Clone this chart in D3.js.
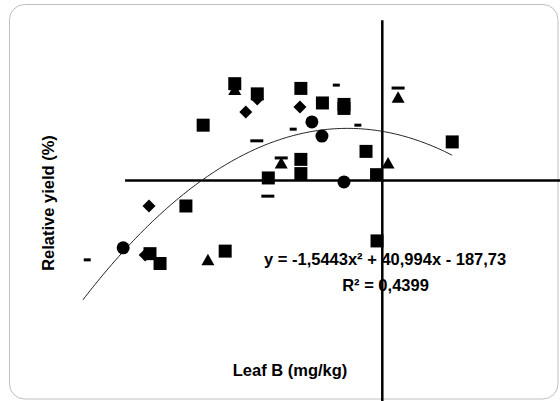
<!DOCTYPE html>
<html>
<head>
<meta charset="utf-8">
<script src="https://cdn.jsdelivr.net/npm/d3@7"></script>
<style>
body { margin: 0; background: #fff; }
text { font-family: "Liberation Sans", Arial, sans-serif; font-weight: bold; fill: #000; }
</style>
</head>
<body>
<svg id="chart" width="560" height="401"></svg>
<script>
// values: [Leaf B mg/kg, relative yield %]
const squares = [
    [10.92, 96.6], [11.39, 93.8], [10.26, 85.2], [12.30, 95.3], [12.75, 91.3],
    [13.20, 90.9], [13.20, 89.8], [12.30, 75.8], [12.30, 71.9], [11.62, 70.7],
    [13.66, 78.0], [13.88, 71.6], [15.46, 80.6], [13.89, 53.4], [9.90, 63.0],
    [9.15, 49.9], [9.36, 47.2], [10.72, 50.6]
];
const diamonds = [[11.15, 88.8], [11.39, 92.4], [12.28, 90.2], [9.13, 63.0], [9.05, 49.5]];
const triangles = [[10.92, 95.0], [11.89, 74.8], [14.33, 92.9], [14.12, 74.8], [10.36, 48.2]];
const circles = [[12.53, 86.1], [12.74, 82.2], [13.20, 69.6], [8.59, 51.5]];
const dashesLong = [[11.38, 80.9], [11.61, 65.7], [14.33, 95.4], [11.89, 76.2]];
const dashesShort = [[12.14, 84.1], [13.04, 96.2], [13.49, 85.2], [7.84, 48.2]];

const trendCoef = [-1.5443, 40.994, -187.73];
const trendRange = [7.75, 15.46];
const refX = 14;
const refY = 70;
const hLineFrom = 8.63;
const vLineFrom = 114;

const equationText = 'y = -1,5443x² + 40,994x - 187,73';
const r2Text = 'R² = 0,4399';
const xLabel = 'Leaf B (mg/kg)';
const yLabel = 'Relative yield (%)';

const svg = d3.select('#chart');

const x = d3.scaleLinear().domain([8, 16]).range([94.9, 478.1]);
const y = d3.scaleLinear().domain([0, 120]).range([435.3, -1.5]);

// chart frame
svg.append('rect')
    .attr('x', 9.5).attr('y', 4.5)
    .attr('width', 548.5).attr('height', 394.5)
    .attr('rx', 15)
    .attr('fill', '#fff')
    .attr('stroke', '#bfbfbf')
    .attr('stroke-width', 1);

// crossing lines
svg.append('line')
    .attr('x1', x(hLineFrom)).attr('x2', x(18))
    .attr('y1', y(refY)).attr('y2', y(refY))
    .attr('stroke', '#000').attr('stroke-width', 2.5);

svg.append('line')
    .attr('x1', x(refX)).attr('x2', x(refX))
    .attr('y1', y(vLineFrom)).attr('y2', y(0))
    .attr('stroke', '#000').attr('stroke-width', 2.5);

// polynomial trend line
const fit = v => trendCoef[0] * v * v + trendCoef[1] * v + trendCoef[2];
const curve = d3.range(trendRange[0], trendRange[1], 0.05).concat([trendRange[1]]);
svg.append('path')
    .attr('d', d3.line().x(d => x(d)).y(d => y(fit(d)))(curve))
    .attr('fill', 'none')
    .attr('stroke', '#222')
    .attr('stroke-width', 1);

function drawPoints(data, shape) {
    svg.append('g').selectAll('path').data(data)
        .enter().append('path')
        .attr('transform', d => 'translate(' + x(d[0]) + ',' + y(d[1]) + ')')
        .attr('d', shape)
        .attr('fill', '#000');
}

drawPoints(triangles, 'M0,-6L6.5,5.5L-6.5,5.5Z');
drawPoints(diamonds, 'M0,-6.5L6.5,0L0,6.5L-6.5,0Z');
drawPoints(squares, 'M-6.5,-6.5H6.5V6.5H-6.5Z');
drawPoints(circles, d3.symbol(d3.symbolCircle, Math.PI * 6.5 * 6.5)());
drawPoints(dashesLong, 'M-6.5,-1.5H6.5V1.5H-6.5Z');
drawPoints(dashesShort, 'M-3.5,-1.5H3.5V1.5H-3.5Z');

// trend equation
svg.append('text')
    .attr('x', 264).attr('y', 265)
    .style('font-size', '16.5px')
    .text(equationText);

svg.append('text')
    .attr('x', 385.5).attr('y', 291)
    .attr('text-anchor', 'middle')
    .style('font-size', '16.5px')
    .text(r2Text);

// axis titles
svg.append('text')
    .attr('x', 290).attr('y', 376)
    .attr('text-anchor', 'middle')
    .style('font-size', '16.5px')
    .text(xLabel);

svg.append('text')
    .attr('transform', 'translate(53.5,203) rotate(-90)')
    .attr('text-anchor', 'middle')
    .style('font-size', '16.5px')
    .text(yLabel);
</script>
</body>
</html>
